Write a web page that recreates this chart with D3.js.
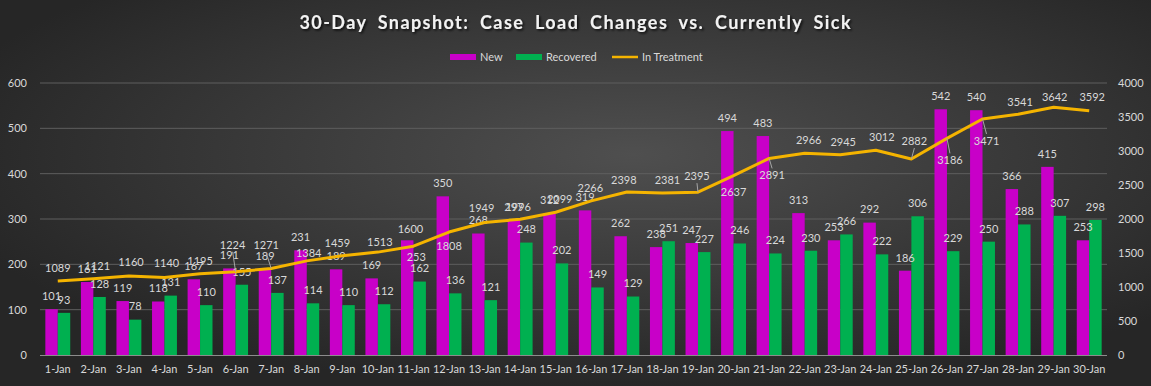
<!doctype html>
<html>
<head>
<meta charset="utf-8">
<style>
    body { margin: 0; background: #2b2b2b; }
    svg { display: block; font-family: Lato, "Open Sans", sans-serif; }
</style>
</head>
<body>
<div id="chart"></div>
<script src="https://cdn.jsdelivr.net/npm/d3@7"></script>
<script>

// data
var days = ["1-Jan","2-Jan","3-Jan","4-Jan","5-Jan","6-Jan","7-Jan","8-Jan","9-Jan","10-Jan",
            "11-Jan","12-Jan","13-Jan","14-Jan","15-Jan","16-Jan","17-Jan","18-Jan","19-Jan","20-Jan",
            "21-Jan","22-Jan","23-Jan","24-Jan","25-Jan","26-Jan","27-Jan","28-Jan","29-Jan","30-Jan"];
var newCases = [101,161,119,118,167,191,189,231,189,169,253,350,268,297,312,319,262,238,247,494,
                483,313,253,292,186,542,540,366,415,253];
var recovered = [93,128,78,131,110,155,137,114,110,112,162,136,121,248,202,149,129,251,227,246,
                 224,230,266,222,306,229,250,288,307,298];
var inTreatment = [1089,1121,1160,1140,1195,1224,1271,1384,1459,1513,1600,1808,1949,1996,2099,2266,2398,2381,2395,2637,
                   2891,2966,2945,3012,2882,3186,3471,3541,3642,3592];
var leftTicks = [0,100,200,300,400,500,600];
var rightTicks = [0,500,1000,1500,2000,2500,3000,3500,4000];
var seriesNames = ["New", "Recovered", "In Treatment"];

// where the "In Treatment" labels sit relative to their point [dx, dy, leader?]
var lineLabelPos = {
    1: [4,-13], 2: [2,-14], 3: [2,-14], 5: [-3,-27,1], 6: [-5,-23,1], 7: [2,-8], 8: [-5,-13], 9: [2,-10],
    10: [-3,-17], 11: [0,14], 12: [-3,-14], 13: [-2,-12], 14: [4,-13], 15: [-1,-13], 16: [-3,-12],
    17: [5,-13], 18: [-1,-16,1], 19: [0,16], 20: [3,17,1], 21: [4,-13], 22: [3,-13], 23: [6,-13],
    24: [3,-18,1], 25: [3,22,1], 26: [4,22,1], 27: [2,-12], 28: [1,-10], 29: [3,-14]
};
// moved "New" labels
var newLabelPos = { 10: [9, 17] };

var W = 1151, H = 386;
var margin = {top: 83, right: 44, bottom: 31, left: 40};
var colNew = "#c800c8", colRec = "#00b050", colLine = "#f5b400";
var txt = "#d9d9d9";

var svg = d3.select("#chart").append("svg")
    .attr("width", W)
    .attr("height", H);

var defs = svg.append("defs");
var grad = defs.append("radialGradient")
    .attr("id", "bg")
    .attr("cx", "55%").attr("cy", "40%").attr("r", "62%");
grad.append("stop").attr("offset", "0%").attr("stop-color", "#4f4f4f");
grad.append("stop").attr("offset", "100%").attr("stop-color", "#262626");

var shadow = defs.append("filter").attr("id", "shadow")
    .attr("x", "-5%").attr("y", "-30%").attr("width", "110%").attr("height", "160%");
shadow.append("feDropShadow")
    .attr("dx", 1.5).attr("dy", 1.5).attr("stdDeviation", 1)
    .attr("flood-color", "#000").attr("flood-opacity", 0.8);

svg.append("rect")
    .attr("width", W).attr("height", H)
    .attr("fill", "url(#bg)");

// title
svg.append("text")
    .attr("x", 575)
    .attr("y", 29)
    .attr("text-anchor", "middle")
    .attr("font-size", "18px")
    .attr("font-weight", "bold")
    .attr("fill", "#f2f2f2")
    .attr("filter", "url(#shadow)")
    .attr("textLength", 551)
    .attr("lengthAdjust", "spacing")
    .style("word-spacing", "5px")
    .text("30-Day Snapshot: Case Load Changes vs. Currently Sick");

//creating scales
var x0 = d3.scaleBand()
    .domain(days)
    .range([margin.left, W - margin.right])
    .paddingInner(0.3)
    .paddingOuter(0.15);

var x1 = d3.scaleBand()
    .domain(["new", "rec"])
    .range([0, x0.bandwidth()]);

var yL = d3.scaleLinear()
    .domain([0, 600])
    .range([H - margin.bottom, margin.top]);

var yR = d3.scaleLinear()
    .domain([0, 4000])
    .range([H - margin.bottom, margin.top]);

// gridlines
svg.append("g")
    .selectAll("line")
    .data(leftTicks.slice(1))
    .enter().append("line")
    .attr("x1", margin.left)
    .attr("x2", W - margin.right)
    .attr("y1", function(d) { return yL(d); })
    .attr("y2", function(d) { return yL(d); })
    .attr("stroke", "#5e5e5e")
    .attr("stroke-width", 1);

// axes
var axL = svg.append("g")
    .attr("transform", "translate(" + margin.left + ",0)")
    .call(d3.axisLeft(yL).tickValues(leftTicks).tickSize(0).tickPadding(13));
var axR = svg.append("g")
    .attr("transform", "translate(" + (W - margin.right) + ",0)")
    .call(d3.axisRight(yR).tickValues(rightTicks).tickFormat(d3.format("d")).tickSize(0).tickPadding(11));
var axB = svg.append("g")
    .attr("transform", "translate(0," + (H - margin.bottom) + ")")
    .call(d3.axisBottom(x0).tickSize(0).tickPadding(10));

[axL, axR, axB].forEach(function(a) {
    a.select(".domain").remove();
    a.selectAll("text")
        .attr("fill", txt)
        .attr("font-size", "11px")
        .attr("font-family", "Lato, sans-serif");
});

svg.append("line")
    .attr("x1", margin.left)
    .attr("x2", W - margin.right)
    .attr("y1", yL(0) + 0.5)
    .attr("y2", yL(0) + 0.5)
    .attr("stroke", "#8c8c8c");

// bars
var groups = svg.append("g")
    .selectAll("g")
    .data(days)
    .enter().append("g")
    .attr("transform", function(d) { return "translate(" + x0(d) + ",0)"; });

groups.append("rect")
    .attr("x", x1("new"))
    .attr("y", function(d, i) { return yL(newCases[i]); })
    .attr("width", x1.bandwidth())
    .attr("height", function(d, i) { return yL(0) - yL(newCases[i]); })
    .attr("fill", colNew);

groups.append("rect")
    .attr("x", x1("rec"))
    .attr("y", function(d, i) { return yL(recovered[i]); })
    .attr("width", x1.bandwidth())
    .attr("height", function(d, i) { return yL(0) - yL(recovered[i]); })
    .attr("fill", colRec);

// line
var lineData = days.map(function(d, i) { return {day: d, v: inTreatment[i], i: i}; });
var line = d3.line()
    .x(function(d) { return x0(d.day) + x0.bandwidth() / 2; })
    .y(function(d) { return yR(d.v); });

svg.append("path")
    .datum(lineData)
    .attr("fill", "none")
    .attr("stroke", colLine)
    .attr("stroke-width", 3)
    .attr("stroke-linejoin", "round")
    .attr("d", line);

// bar labels
function barLabels(vals, key, moved) {
    groups.append("text")
        .attr("x", function(d, i) { return x1(key) + x1.bandwidth() / 2 + (moved[i] ? moved[i][0] : 0); })
        .attr("y", function(d, i) { return yL(vals[i]) + (moved[i] ? moved[i][1] : -13); })
        .attr("dy", "0.35em")
        .attr("text-anchor", "middle")
        .attr("font-size", "11px")
        .attr("fill", txt)
        .text(function(d, i) { return vals[i]; });
}
barLabels(newCases, "new", newLabelPos);
barLabels(recovered, "rec", {});

// line labels
var lbl = svg.append("g");
lineData.forEach(function(d) {
    var px = x0(d.day) + x0.bandwidth() / 2, py = yR(d.v);
    var p = lineLabelPos[d.i] || [0, -13];
    var lx = px + p[0], ly = py + p[1];
    if (p[2]) {
        var endY = p[1] < 0 ? ly + 7 : ly - 7;
        lbl.append("line")
            .attr("x1", lx).attr("y1", endY)
            .attr("x2", px).attr("y2", py)
            .attr("stroke", "#a6a6a6")
            .attr("stroke-width", 1);
    }
    lbl.append("text")
        .attr("x", lx)
        .attr("y", ly)
        .attr("dy", "0.35em")
        .attr("text-anchor", "middle")
        .attr("font-size", "11px")
        .attr("fill", txt)
        .text(d.v);
});

// legend
var legend = svg.append("g").attr("transform", "translate(450,57)");
var legX = [0, 66, 162];
seriesNames.forEach(function(name, i) {
    var g = legend.append("g").attr("transform", "translate(" + legX[i] + ",0)");
    if (i < 2) {
        g.append("rect")
            .attr("x", 0).attr("y", -3)
            .attr("width", 26).attr("height", 6)
            .attr("fill", i == 0 ? colNew : colRec);
    } else {
        g.append("line")
            .attr("x1", 0).attr("x2", 26)
            .attr("y1", 0).attr("y2", 0)
            .attr("stroke", colLine)
            .attr("stroke-width", 2.5);
    }
    g.append("text")
        .attr("x", 30)
        .attr("y", 0)
        .attr("dy", "0.35em")
        .attr("font-size", "11px")
        .attr("fill", txt)
        .text(name);
});

</script>
</body>
</html>
